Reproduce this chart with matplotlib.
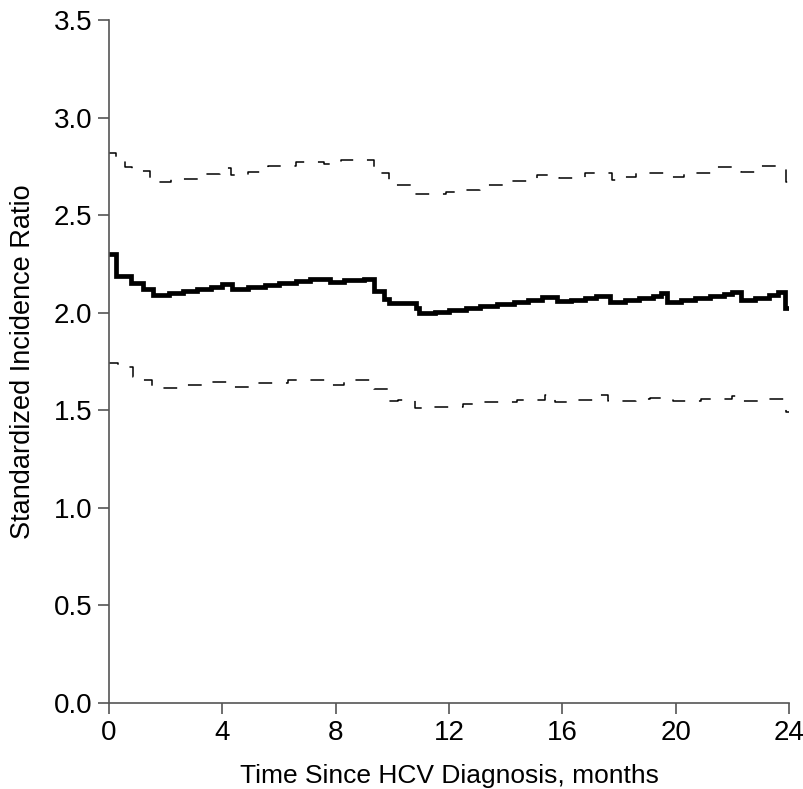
import matplotlib
matplotlib.use("Agg")
import matplotlib.pyplot as plt

# Point estimate (step function)
main_t = [0, 0.25, 0.77, 1.19, 1.54, 2.1, 2.6, 3.1, 3.6, 4.0, 4.35, 4.9, 5.5, 6.0, 6.6, 7.1,
          7.8, 8.3, 9.0, 9.35, 9.7, 9.87, 10.82, 10.95, 11.5, 12.0, 12.6, 13.1, 13.7, 14.3,
          14.8, 15.3, 15.8, 16.3, 16.8, 17.2, 17.7, 18.2, 18.7, 19.2, 19.5, 19.7, 20.2, 20.7,
          21.2, 21.7, 22.0, 22.3, 22.8, 23.3, 23.6, 23.85, 24]
main_v = [2.30, 2.19, 2.15, 2.12, 2.09, 2.10, 2.11, 2.12, 2.13, 2.145, 2.12, 2.13, 2.14, 2.15,
          2.16, 2.175, 2.155, 2.165, 2.175, 2.11, 2.07, 2.05, 2.025, 2.0, 2.005, 2.015, 2.025,
          2.035, 2.045, 2.055, 2.065, 2.08, 2.06, 2.065, 2.075, 2.085, 2.055, 2.065, 2.075,
          2.085, 2.10, 2.055, 2.065, 2.075, 2.085, 2.095, 2.105, 2.065, 2.075, 2.09, 2.105,
          2.025, 2.025]

# Upper confidence limit
upper_t = [0, 0.25, 0.55, 0.8, 1.45, 2.2, 3.2, 3.9, 4.3, 4.9, 5.6, 6.6, 7.6, 8.2, 9.35, 9.9,
           10.8, 11.9, 12.2, 13.1, 14.1, 15.1, 15.9, 16.8, 17.75, 18.1, 18.6, 19.7, 20.3,
           21.3, 22.3, 22.9, 23.9, 24]
upper_v = [2.82, 2.79, 2.745, 2.725, 2.67, 2.685, 2.71, 2.74, 2.705, 2.72, 2.75, 2.77, 2.76,
           2.78, 2.715, 2.655, 2.61, 2.62, 2.63, 2.655, 2.675, 2.705, 2.69, 2.715, 2.68,
           2.695, 2.715, 2.695, 2.715, 2.745, 2.72, 2.75, 2.67, 2.67]

# Lower confidence limit
lower_t = [0, 0.3, 0.85, 1.2, 1.5, 2.5, 3.4, 4.4, 5.2, 6.3, 7.7, 8.3, 9.35, 9.9, 10.2, 10.8,
           11.2, 12.5, 13.0, 14.4, 15.4, 15.75, 16.4, 17.3, 17.6, 18.6, 19.1, 19.9, 20.9,
           22.0, 22.35, 22.9, 23.9, 24]
lower_v = [1.74, 1.72, 1.67, 1.655, 1.615, 1.63, 1.645, 1.62, 1.64, 1.655, 1.63, 1.655, 1.61,
           1.545, 1.555, 1.51, 1.515, 1.53, 1.54, 1.555, 1.58, 1.54, 1.555, 1.58, 1.545,
           1.56, 1.565, 1.545, 1.56, 1.575, 1.545, 1.56, 1.49, 1.49]

x_ticks = [0, 4, 8, 12, 16, 20, 24]
y_ticks = [0.0, 0.5, 1.0, 1.5, 2.0, 2.5, 3.0, 3.5]

plt.rcParams['font.family'] = ['Liberation Sans', 'DejaVu Sans']

fig = plt.figure(figsize=(8.04, 7.89), dpi=100)
ax = fig.add_axes([0.1356, 0.109, 0.9813 - 0.1356, 0.9747 - 0.109])

ax.plot(main_t, main_v, drawstyle='steps-post', color='black', lw=3.4,
        solid_joinstyle='miter')
ax.plot(upper_t, upper_v, drawstyle='steps-post', color='black', lw=1.1,
        linestyle=(2, (9, 9)))
ax.plot(lower_t, lower_v, drawstyle='steps-post', color='black', lw=1.1,
        linestyle=(2, (9, 9)))

ax.set_xlim(0, 24)
ax.set_ylim(0, 3.5)
ax.set_xticks(x_ticks)
ax.set_xticklabels([str(v) for v in x_ticks])
ax.set_yticks(y_ticks)
ax.set_yticklabels([f"{v:.1f}" for v in y_ticks])

for s in ['top', 'right']:
    ax.spines[s].set_visible(False)
for s in ['left', 'bottom']:
    ax.spines[s].set_color('#555555')
    ax.spines[s].set_linewidth(1.2)

ax.tick_params(axis='both', direction='out', length=8, width=1.2, color='#555555',
               labelsize=20, labelcolor='black', pad=4)

ax.set_xlabel('Time Since HCV Diagnosis, months', fontsize=19, labelpad=13)
ax.set_ylabel('Standardized Incidence Ratio', fontsize=19.5, labelpad=13)

fig.savefig('out.png', dpi=100)
